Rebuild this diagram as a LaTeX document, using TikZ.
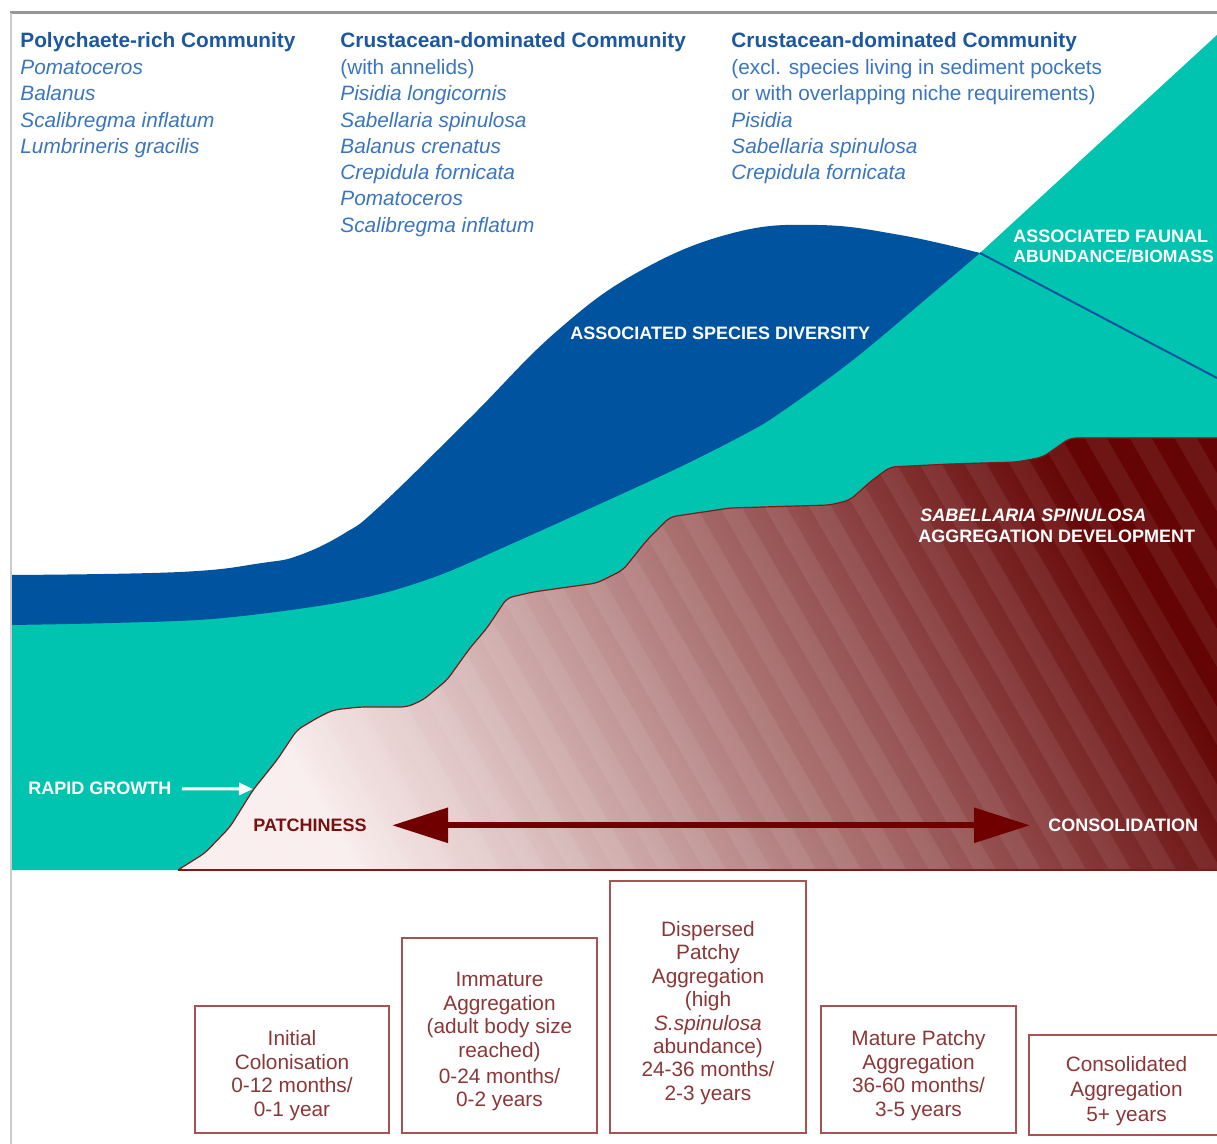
\documentclass[tikz,border=0pt]{standalone}
\usepackage{fontspec}
\setmainfont{Liberation Sans}
\usetikzlibrary{arrows.meta}
\definecolor{divblue}{RGB}{0,83,158}
\definecolor{tealc}{RGB}{0,196,176}
\definecolor{hdblue}{RGB}{28,88,162}
\definecolor{itblue}{RGB}{58,118,192}
\definecolor{sabdark}{RGB}{100,4,4}
\definecolor{sablight}{RGB}{250,238,238}
\definecolor{sabline}{RGB}{130,25,25}
\definecolor{arrowred}{RGB}{112,0,0}
\definecolor{patchred}{RGB}{120,16,16}
\definecolor{boxline}{RGB}{168,82,82}
\definecolor{boxtext}{RGB}{140,55,55}
\definecolor{framegray}{RGB}{150,150,150}
\newcommand{\boxtopstrut}{\rule{0pt}{13.6pt}}
\begin{document}
\begin{tikzpicture}[x=0.5pt,y=-0.5pt,
  toptext/.style={anchor=base west, inner sep=0pt},
  hd/.style={toptext, text=hdblue, font=\fontsize{10.4}{12}\selectfont\bfseries},
  sp/.style={toptext, text=itblue, font=\fontsize{10.4}{12}\selectfont\itshape},
  note/.style={toptext, text=itblue, font=\fontsize{10.4}{12}\selectfont},
  lbl/.style={anchor=base west, inner sep=0pt, text=white, font=\fontsize{9}{10}\selectfont\bfseries},
  stagebox/.style={draw=boxline, line width=1pt, text=boxtext, align=center, inner sep=0pt, font=\fontsize{10.4}{11.7}\selectfont},
]
\useasboundingbox (0,0) rectangle (1217,1144);
\clip (0,0) rectangle (1217,1144);
\fill[white] (0,0) rectangle (1217,1144);

% teal area (faunal abundance)
\fill[tealc] plot[smooth,tension=0.55] coordinates {(12,610) (112,608) (212,604) (312,592) (380,579) (440,560) (500,534) (580,498) (680,452) (747,418) (780,398) (853,345) (933,280) (980,253)} -- (1217,35) -- (1217,870) -- (12,870) -- cycle;

% blue area (species diversity)
\fill[divblue] plot[smooth,tension=0.7] coordinates {(12,575) (180,572) (262,563) (300,555) (345,533) (380,506) (470,418) (557,331) (640,271) (733,233) (817,225) (900,235) (980,253)} -- plot[smooth,tension=0.55] coordinates {(980,253) (933,293) (853,360) (780,413) (747,433) (680,467) (580,513) (500,549) (440,575) (380,594) (312,607) (212,619) (112,623) (12,625)} -- cycle;
\draw[divblue, line width=1pt] (980,253) -- (1217,378);

% Sabellaria aggregation development
\def\sabtop{(178,870) -- (205,853) -- (230,827) -- (253,790) -- (277,760) -- (297,730) -- (317,718) -- (333,710) -- (360,707) -- (407,707) -- (423,700) -- (447,680) -- (470,648) -- (487,628) -- (507,598) -- (533,592) -- (597,583) -- (623,570) -- (647,540) -- (670,517) -- (730,508) -- (830,505) -- (850,500) -- (870,482) -- (890,467) -- (950,464) -- (1017,462) -- (1043,457) -- (1070,438) -- (1230,438)}
\shade[top color=sabdark, bottom color=sablight, shading angle=-60, rounded corners=3pt] \sabtop -- (1230,870) -- cycle;
\begin{scope}
  \clip[rounded corners=3pt] \sabtop -- (1230,870) -- cycle;
  \foreach \i in {-6,...,26} {
    \fill[white, opacity=0.07] (\i*45,430) -- (\i*45+22,430) -- (\i*45+282,880) -- (\i*45+260,880) -- cycle;
  }
\end{scope}
\draw[sabline, line width=0.6pt, rounded corners=3pt] \sabtop;
\draw[sabline, line width=1pt] (178,870) -- (1217,870);

% labels in the chart
\node[lbl] (div) at (570,339.5) {ASSOCIATED SPECIES DIVERSITY};
\node[lbl] (faun1) at (1013,242.5) {ASSOCIATED FAUNAL};
\node[lbl, font=\fontsize{8.8}{10}\selectfont\bfseries] (faun2) at (1013,262.5) {ABUNDANCE/BIOMASS};
\node[lbl, font=\fontsize{9}{10}\selectfont\bfseries\itshape] (sab1) at (920,521.5) {SABELLARIA SPINULOSA};
\node[lbl] (sab2) at (918,542.5) {AGGREGATION DEVELOPMENT};
\node[lbl] (rapid) at (28,795) {RAPID GROWTH};
\coordinate (rgtip) at (253,789);
\draw[white, line width=1.5pt, -{Triangle[length=7pt,width=6pt]}, shorten <=5pt] (rapid.east) -- (rgtip);
\node[lbl, text=patchred] (patch) at (253,831.5) {PATCHINESS};
\node[lbl] (consol) at (1048,831.5) {CONSOLIDATION};
\draw[arrowred, line width=3pt, {Triangle[length=28pt,width=17pt]}-{Triangle[length=28pt,width=17pt]}, shorten <=12.5pt, shorten >=9pt] (patch.east) -- (consol.west);

% community lists
\node[hd] (c1h) at (20,47.5) {Polychaete-rich Community};
\node[sp] (c1a) at (20,74.5) {Pomatoceros};
\node[sp] (c1b) at (20,100.8) {Balanus};
\node[sp] (c1c) at (20,127.1) {Scalibregma inflatum};
\node[sp] (c1d) at (20,153.4) {Lumbrineris gracilis};

\node[hd] (c2h) at (340,47.5) {Crustacean-dominated Community};
\node[note] (c2n) at (340,74.5) {(with annelids)};
\node[sp] (c2a) at (340,100.8) {Pisidia longicornis};
\node[sp] (c2b) at (340,127.1) {Sabellaria spinulosa};
\node[sp] (c2c) at (340,153.4) {Balanus crenatus};
\node[sp] (c2d) at (340,179.7) {Crepidula fornicata};
\node[sp] (c2e) at (340,206) {Pomatoceros};
\node[sp] (c2f) at (340,232.3) {Scalibregma inflatum};

\node[hd] (c3h) at (731,47.5) {Crustacean-dominated Community};
\node[note] (c3n) at (731,74.5) {(excl. species living in sediment pockets};
\node[note] (c3m) at (731,100.8) {or with overlapping niche requirements)};
\node[sp] (c3a) at (731,127.1) {Pisidia};
\node[sp] (c3b) at (731,153.4) {Sabellaria spinulosa};
\node[sp] (c3c) at (731,179.7) {Crepidula fornicata};

% stage boxes
\node[stagebox, minimum width=97pt, minimum height=63.5pt] (b1) at (292,1069.5) {\boxtopstrut Initial\\Colonisation\\0-12 months/\\0-1 year};
\node[stagebox, minimum width=97.5pt, minimum height=97.5pt] (b2) at (499.5,1035.5) {\boxtopstrut Immature\\Aggregation\\(adult body size\\reached)\\[1.5pt]0-24 months/\\0-2 years};
\node[stagebox, minimum width=98pt, minimum height=126pt] (b3) at (708,1007) {\boxtopstrut Dispersed\\Patchy\\Aggregation\\(high\\\textit{S.spinulosa}\\abundance)\\24-36 months/\\2-3 years};
\node[stagebox, minimum width=97.5pt, minimum height=63.5pt] (b4) at (918.5,1069.5) {\boxtopstrut Mature Patchy\\Aggregation\\36-60 months/\\3-5 years};
\node[stagebox, minimum width=97.5pt, minimum height=50pt, font=\fontsize{10.4}{12.6}\selectfont] (b5) at (1126.5,1085) {\boxtopstrut Consolidated\\Aggregation\\5+ years};

% frame
\draw[framegray, line width=1.5pt] (10,13) -- (1217,13);
\draw[gray!40, line width=1pt] (11,13) -- (11,1144);
\end{tikzpicture}
\end{document}
